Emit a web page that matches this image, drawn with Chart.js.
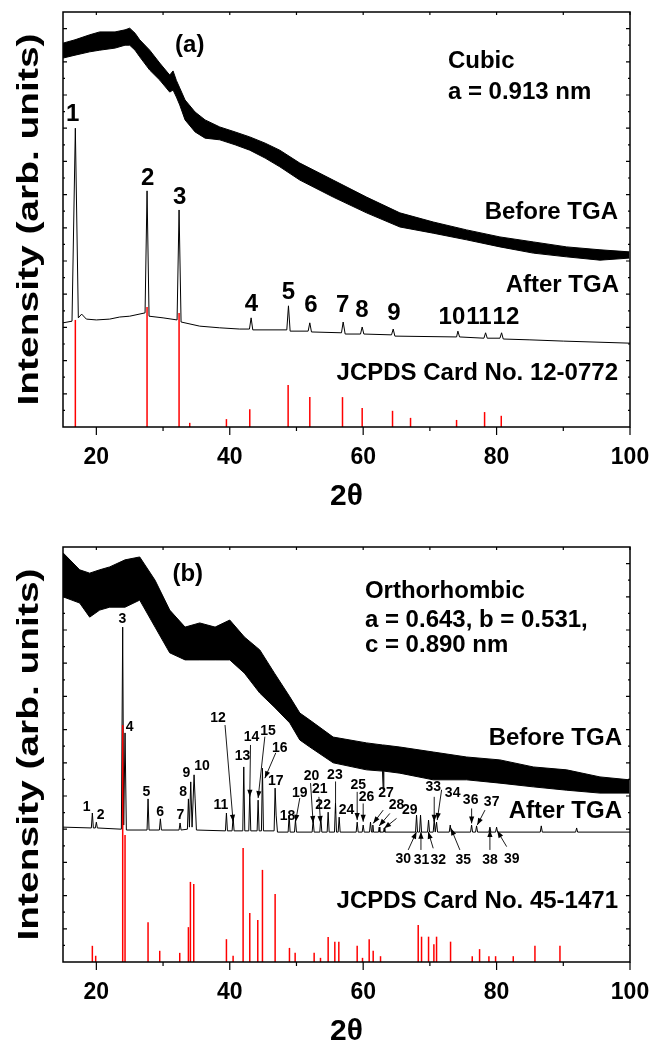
<!DOCTYPE html>
<html><head><meta charset="utf-8">
<script src="https://cdn.jsdelivr.net/npm/chart.js@4.4.1/dist/chart.umd.min.js"></script>
<style>
html,body{margin:0;padding:0;background:#fff;}
#wrap{width:651px;height:1046px;position:relative;overflow:hidden;}
.box{position:absolute;left:0;width:651px;height:523px;}
canvas{display:block;}
</style></head><body>
<div id="wrap">
<div class="box" style="top:0"><canvas id="ca" width="651" height="523"></canvas></div>
<div class="box" style="top:523px"><canvas id="cb" width="651" height="523"></canvas></div>
</div>
<script>
// ---------- Panel (a) data ----------
const beforeA_x  = [15.0,16.8,19.0,20.5,22.8,24.3,25.0,25.8,26.5,28.0,29.5,31.0,31.5,32.0,32.5,33.3,34.8,36.3,38.5,40.8,43.0,45.3,47.5,50.5,55.5,60.5,65.5,70.5,75.5,80.5,85.5,90.5,95.5,99.9];
const beforeA_hi = [92.5,93.3,94.5,95.2,95.2,95.7,96.1,94.9,93.3,90.8,87.7,84.8,85.8,83.5,81.7,78.8,75.9,74.0,72.3,71.1,69.9,68.4,66.7,63.6,59.5,55.4,51.6,49.4,47.5,45.8,44.6,43.4,42.7,42.2];
const beforeA_lo = [88.9,89.6,90.4,90.8,91.3,92.0,92.0,90.8,89.2,86.0,83.6,80.7,81.2,79.5,77.6,74.0,71.1,69.6,69.2,68.0,66.7,64.8,62.7,59.5,55.4,51.6,48.2,46.7,45.1,43.4,41.9,41.0,40.2,40.7];

const afterA_x = [15.0,16.35,16.85,17.3,17.8,18.5,20,22,23.5,25,27.3,27.6,27.9,30,32.1,32.4,32.7,35.5,38.5,41.5,42.95,43.2,43.45,48.55,48.8,49.05,51.75,52.0,52.25,56.75,57.0,57.3,59.6,59.85,60.1,64.25,64.5,64.75,74.0,74.2,74.45,78.1,78.35,78.6,80.5,80.75,81.0,85,90,100];
const afterA_y = [25.1,25.5,72.0,26.3,27.2,26.0,25.8,26.0,26.5,26.7,27.5,56.9,26.7,26.3,25.8,52.3,25.3,24.3,23.9,23.6,23.6,26.3,23.4,23.4,29.2,23.1,23.1,25.1,22.9,22.7,25.3,22.4,22.4,24.1,22.4,22.2,23.6,21.9,21.7,23.1,21.7,21.4,22.7,21.4,21.4,22.7,21.2,21.0,20.7,20.2];

const refA_x = [16.85,27.6,32.4,34.0,39.5,43.0,48.75,52.0,56.9,59.85,64.4,67.1,74.0,78.2,80.7];
const refA_y = [25.8,28.9,27.5,1.0,1.9,4.3,10.1,7.2,7.2,4.6,3.9,2.2,1.7,3.6,2.7];

const peakA_text = ['1','2','3','4','5','6','7','8','9','10','11','12'];
const peakA_x    = [16.46,27.7,32.5,43.26,48.81,52.16,56.91,59.8,64.6,73.3,77.35,81.4];
const peakA_y    = [75.4,60.0,55.4,29.6,32.5,29.4,29.4,28.2,27.5,26.5,26.5,26.5];

const noteA_text  = ['(a)','Cubic','a = 0.913 nm','Before TGA','After TGA','JCPDS Card No. 12-0772'];
const noteA_x     = [34.0,72.7,72.7,98.2,98.35,98.2];
const noteA_y     = [92.0,88.0,80.7,51.6,34.2,13.0];
const noteA_align = ['center','left','left','right','right','right'];

// ---------- Panel (b) data ----------
const beforeB_x  = [15.0,17.5,19.0,20.5,22.0,24.3,26.5,28.8,31.0,33.3,35.5,37.8,40.0,42.2,44.5,46.7,49.0,50.5,52.0,55.5,60.5,62.9,63.0,63.1,65.5,70.5,75.5,80.5,85.5,90.5,95.5,99.9];
const beforeB_hi = [98.6,94.5,93.7,94.5,95.2,96.9,97.6,92.0,84.8,80.7,81.7,80.7,82.4,78.3,75.2,69.6,63.9,60.0,58.3,54.2,52.8,52.3,52.3,52.3,51.8,50.6,49.4,48.7,47.0,46.3,44.6,43.9];
const beforeB_lo = [88.0,86.5,83.1,84.8,85.5,85.5,87.2,80.7,74.5,72.8,72.8,72.8,72.8,69.6,64.8,61.4,57.6,53.5,51.8,48.0,46.3,46.0,41.5,46.0,45.5,43.9,43.9,43.1,42.2,41.4,40.7,40.7];

const afterB_x = [15,19.25,19.4,19.55,19.85,20.0,20.15,23.75,23.95,24.1,24.3,24.5,27.6,27.75,27.9,29.45,29.6,29.75,32.4,32.55,32.7,33.65,33.8,33.95,34.15,34.35,34.65,34.8,35.0,39.35,39.5,39.65,40.35,40.5,40.65,41.95,42.1,42.25,42.85,43.0,43.15,44.1,44.25,44.4,44.75,44.9,45.05,46.65,46.8,46.95,47.15,48.75,48.9,49.05,49.7,49.85,50.0,52.35,52.5,52.65,53.5,53.65,53.8,54.6,54.75,54.9,55.7,55.85,56.0,56.25,56.4,56.55,58.95,59.1,59.25,59.85,60.0,60.15,60.95,61.1,61.25,61.35,61.45,61.55,62.3,62.4,62.5,63.05,63.15,63.25,67.85,68.0,68.15,68.45,68.6,68.75,69.65,69.8,69.95,70.5,70.65,70.8,70.9,71.0,71.15,72.9,73.05,73.2,76.1,76.25,76.4,76.85,77.0,77.15,78.85,79.0,79.15,79.85,80.0,80.15,86.55,86.7,86.85,91.85,92.0,92.15,100];
const afterB_y = [32.5,32.3,35.9,32.3,32.3,33.7,32.3,32.0,80.7,33.0,55.2,31.8,31.8,39.3,31.8,31.8,34.5,31.8,31.8,33.5,31.8,32.0,39.3,32.5,43.4,32.5,45.1,39.5,31.8,31.6,35.9,31.6,31.6,34.9,31.6,31.6,47.0,31.6,31.6,40.7,31.6,31.6,39.0,31.6,31.6,46.7,31.6,31.6,41.9,35.4,31.3,31.3,35.4,31.3,31.3,34.2,31.3,31.3,34.2,31.3,31.3,34.9,31.3,31.3,36.1,31.3,31.3,38.3,31.3,31.3,34.9,31.3,31.3,33.7,31.3,31.3,33.0,31.3,31.3,33.7,31.3,31.3,33.0,31.3,31.3,32.5,31.3,31.3,32.3,31.3,31.3,35.4,31.3,31.3,35.4,31.3,31.3,34.2,31.3,31.3,34.2,31.3,31.3,33.7,31.3,31.3,33.0,31.3,31.3,33.0,31.3,31.3,32.8,31.3,31.3,32.5,31.3,31.3,32.5,31.3,31.3,32.8,31.3,31.3,32.3,31.3,31.3];

const refB_x = [19.4,19.9,23.95,24.3,27.75,29.5,32.5,33.8,34.1,34.6,39.5,40.5,42.0,43.0,44.2,44.9,46.8,48.95,49.8,52.65,53.6,54.75,55.75,56.35,59.1,59.9,60.9,61.5,62.6,68.25,68.75,69.8,70.6,71.0,73.1,76.35,77.45,78.85,79.85,82.5,85.75,89.5];
const refB_y = [3.9,1.5,57.1,30.6,9.6,2.7,2.2,8.4,19.3,18.8,5.5,1.5,27.5,11.8,10.1,22.2,16.4,3.4,2.2,2.2,1.0,6.0,4.9,4.9,3.9,1.0,5.5,2.7,1.4,8.9,6.1,6.1,4.3,6.1,4.9,1.4,3.1,1.4,1.4,1.4,3.9,3.9];

const peakB_text = ['1','2','3','4','5','6','7','8','9','10','11','12','13','14','15','16','17','18','19','20','21','22','23','24','25','26','27','28','29','30','31','32','33','34','35','36','37','38','39'];
const peakB_x = [18.56,20.66,23.91,25.0,27.51,29.55,32.61,33.0,33.51,35.85,38.66,38.25,41.91,43.26,45.75,47.5,46.9,48.66,50.5,52.26,53.5,54.0,55.76,57.51,59.25,60.51,63.41,65.01,67.0,66.0,68.76,71.25,70.5,73.41,75.0,76.11,79.26,79.0,82.26];
const peakB_y = [37.4,35.4,82.7,56.6,41.0,36.1,35.4,41.0,45.6,47.1,37.8,58.8,49.5,54.2,55.7,51.6,43.7,35.2,40.7,44.8,41.7,37.8,45.1,36.6,42.7,39.8,40.7,37.8,36.6,24.8,24.6,24.6,42.2,40.7,24.6,39.0,38.4,24.6,24.8];

const arrowB_x1 = [39.29,43.11,45.26,46.9,50.5,52.11,53.36,55.86,59.1,60.0,63.0,64.0,65.0,66.75,68.66,70.5,70.65,71.76,74.5,76.26,78.26,79.0,81.51];
const arrowB_y1 = [57.1,52.3,54.3,50.4,39.5,43.1,39.8,43.5,41.0,38.2,36.6,35.8,34.6,27.0,27.0,27.4,39.8,41.5,27.0,37.0,36.6,27.0,27.8];
const arrowB_x2 = [40.5,43.0,44.25,45.26,49.86,52.5,53.61,55.86,59.1,60.0,61.5,62.4,63.15,68.0,68.66,69.75,70.65,71.1,73.16,76.26,77.1,79.0,80.1];
const arrowB_y2 = [33.8,39.8,39.5,44.3,33.8,33.5,33.5,35.8,34.2,33.8,33.4,32.8,32.2,31.4,31.4,31.4,33.8,34.2,32.2,33.4,33.0,31.8,31.6];
const arrowB_head = [1,1,1,1,1,1,1,0,1,1,1,1,1,1,1,1,1,1,1,1,1,1,1];

const noteB_text  = ['(b)','Orthorhombic','a = 0.643, b = 0.531,','c = 0.890 nm','Before TGA','After TGA','JCPDS Card No. 45-1471'];
const noteB_x     = [33.7,60.26,60.26,60.26,98.8,98.8,98.2];
const noteB_y     = [93.3,89.2,82.4,76.4,54.0,36.2,14.5];
const noteB_align = ['center','left','left','left','right','right','right'];

const xTicks = [20,40,60,80,100];
const FONT = "'Liberation Sans', Arial, sans-serif";

function pts(xs, ys){ return xs.map((v,i)=>({x:v, y:ys[i]})); }

function makeDecor(p){
  return {
    id:'decor',
    afterDraw(chart){
      const ctx = chart.ctx, a = chart.chartArea, xs = chart.scales.x, ys = chart.scales.y;
      ctx.save();
      ctx.strokeStyle = '#000'; ctx.fillStyle = '#000';
      ctx.lineWidth = 0.9;
      if (p.arrows) {
        const A = p.arrows;
        for (let i=0;i<A.x1.length;i++){
          const x1 = xs.getPixelForValue(A.x1[i]), y1 = ys.getPixelForValue(A.y1[i]);
          const x2 = xs.getPixelForValue(A.x2[i]), y2 = ys.getPixelForValue(A.y2[i]);
          ctx.beginPath(); ctx.moveTo(x1,y1); ctx.lineTo(x2,y2); ctx.stroke();
          if (A.head[i]) {
            const ang = Math.atan2(y2-y1, x2-x1), L = 7, W = 2.6;
            const bx = x2 - L*Math.cos(ang), by = y2 - L*Math.sin(ang);
            ctx.beginPath();
            ctx.moveTo(x2,y2);
            ctx.lineTo(bx + W*Math.sin(ang), by - W*Math.cos(ang));
            ctx.lineTo(bx - W*Math.sin(ang), by + W*Math.cos(ang));
            ctx.closePath(); ctx.fill();
          }
        }
      }
      ctx.lineWidth = 1.5;
      ctx.strokeRect(a.left, a.top, a.right-a.left, a.bottom-a.top);
      ctx.lineWidth = 1.2;
      ctx.beginPath();
      for (let v=20; v<=100; v+=10){
        const px = xs.getPixelForValue(v);
        const len = (v%20===0) ? 8 : 4;
        ctx.moveTo(px, a.bottom); ctx.lineTo(px, a.bottom+len);
        ctx.moveTo(px, a.top); ctx.lineTo(px, a.top+3);
      }
      for (let v=4; v<100; v+=4){
        const py = ys.getPixelForValue(v);
        const len = (v%8===0) ? 4 : 2;
        ctx.moveTo(a.left, py); ctx.lineTo(a.left+len, py);
        ctx.moveTo(a.right, py); ctx.lineTo(a.right-len, py);
      }
      ctx.stroke();
      ctx.textBaseline = 'middle';
      ctx.textAlign = 'center';
      ctx.font = 'bold ' + p.peakSize + 'px ' + FONT;
      for (let i=0;i<p.peakText.length;i++){
        ctx.fillText(p.peakText[i], xs.getPixelForValue(p.peakX[i]), ys.getPixelForValue(p.peakY[i]));
      }
      ctx.font = 'bold 24px ' + FONT;
      for (let i=0;i<p.noteText.length;i++){
        ctx.textAlign = p.noteAlign[i];
        ctx.fillText(p.noteText[i], xs.getPixelForValue(p.noteX[i]), ys.getPixelForValue(p.noteY[i]));
      }
      ctx.font = 'bold 30px ' + FONT;
      const t = 'Intensity (arb. units)';
      const w = ctx.measureText(t).width;
      ctx.save();
      ctx.translate(30, (a.top + a.bottom)/2);
      ctx.rotate(-Math.PI/2);
      ctx.scale(372/w, 1);
      ctx.textAlign = 'center';
      ctx.fillText(t, 0, 0);
      ctx.restore();
      ctx.font = 'bold 30px ' + FONT;
      ctx.textAlign = 'center';
      ctx.fillText('2\u03B8', (a.left + a.right)/2, a.bottom + 70);
      ctx.restore();
    }
  };
}

function build(id, p){
  return new Chart(document.getElementById(id), {
    type: 'line',
    data: { datasets: [
      { type:'bar', data: pts(p.refX, p.refY), backgroundColor:'#ff0000', borderWidth:0, barThickness:1.5, inflateAmount:0, order:0 },
      { data: pts(p.afterX, p.afterY), borderColor:'#000', borderWidth:1, pointRadius:0, fill:false, tension:0, order:1 },
      { data: pts(p.beforeX, p.beforeLo), borderColor:'#000', borderWidth:1, pointRadius:0, fill:false, tension:0, order:3 },
      { data: pts(p.beforeX, p.beforeHi), borderColor:'#000', borderWidth:1, pointRadius:0, fill:'-1', backgroundColor:'#000', tension:0, order:2 }
    ]},
    options: {
      responsive:false, animation:false, devicePixelRatio:1, events:[],
      layout:{ padding:{ left:63, right:21, top:p.padTop, bottom:0 } },
      plugins:{ legend:{display:false}, tooltip:{enabled:false} },
      scales:{
        x:{ type:'linear', min:15, max:100, offset:false,
            grid:{display:false}, border:{display:false},
            afterBuildTicks: s => { s.ticks = xTicks.map(v => ({value:v})); },
            ticks:{ autoSkip:false, maxRotation:0, padding:9, color:'#000',
                    font:{ family:FONT, weight:'bold', size:23 } },
            afterFit: s => { s.height = p.xAxisH; s.paddingLeft = 0; s.paddingRight = 0; } },
        y:{ type:'linear', min:0, max:100, display:false }
      }
    },
    plugins:[ makeDecor(p) ]
  });
}

build('ca', {
  padTop:12, xAxisH:96, peakSize:24,
  beforeX:beforeA_x, beforeHi:beforeA_hi, beforeLo:beforeA_lo,
  afterX:afterA_x, afterY:afterA_y, refX:refA_x, refY:refA_y,
  peakText:peakA_text, peakX:peakA_x, peakY:peakA_y,
  noteText:noteA_text, noteX:noteA_x, noteY:noteA_y, noteAlign:noteA_align
});
build('cb', {
  padTop:24, xAxisH:84, peakSize:14,
  beforeX:beforeB_x, beforeHi:beforeB_hi, beforeLo:beforeB_lo,
  afterX:afterB_x, afterY:afterB_y, refX:refB_x, refY:refB_y,
  peakText:peakB_text, peakX:peakB_x, peakY:peakB_y,
  noteText:noteB_text, noteX:noteB_x, noteY:noteB_y, noteAlign:noteB_align,
  arrows:{ x1:arrowB_x1, y1:arrowB_y1, x2:arrowB_x2, y2:arrowB_y2, head:arrowB_head }
});
</script>
</body></html>
